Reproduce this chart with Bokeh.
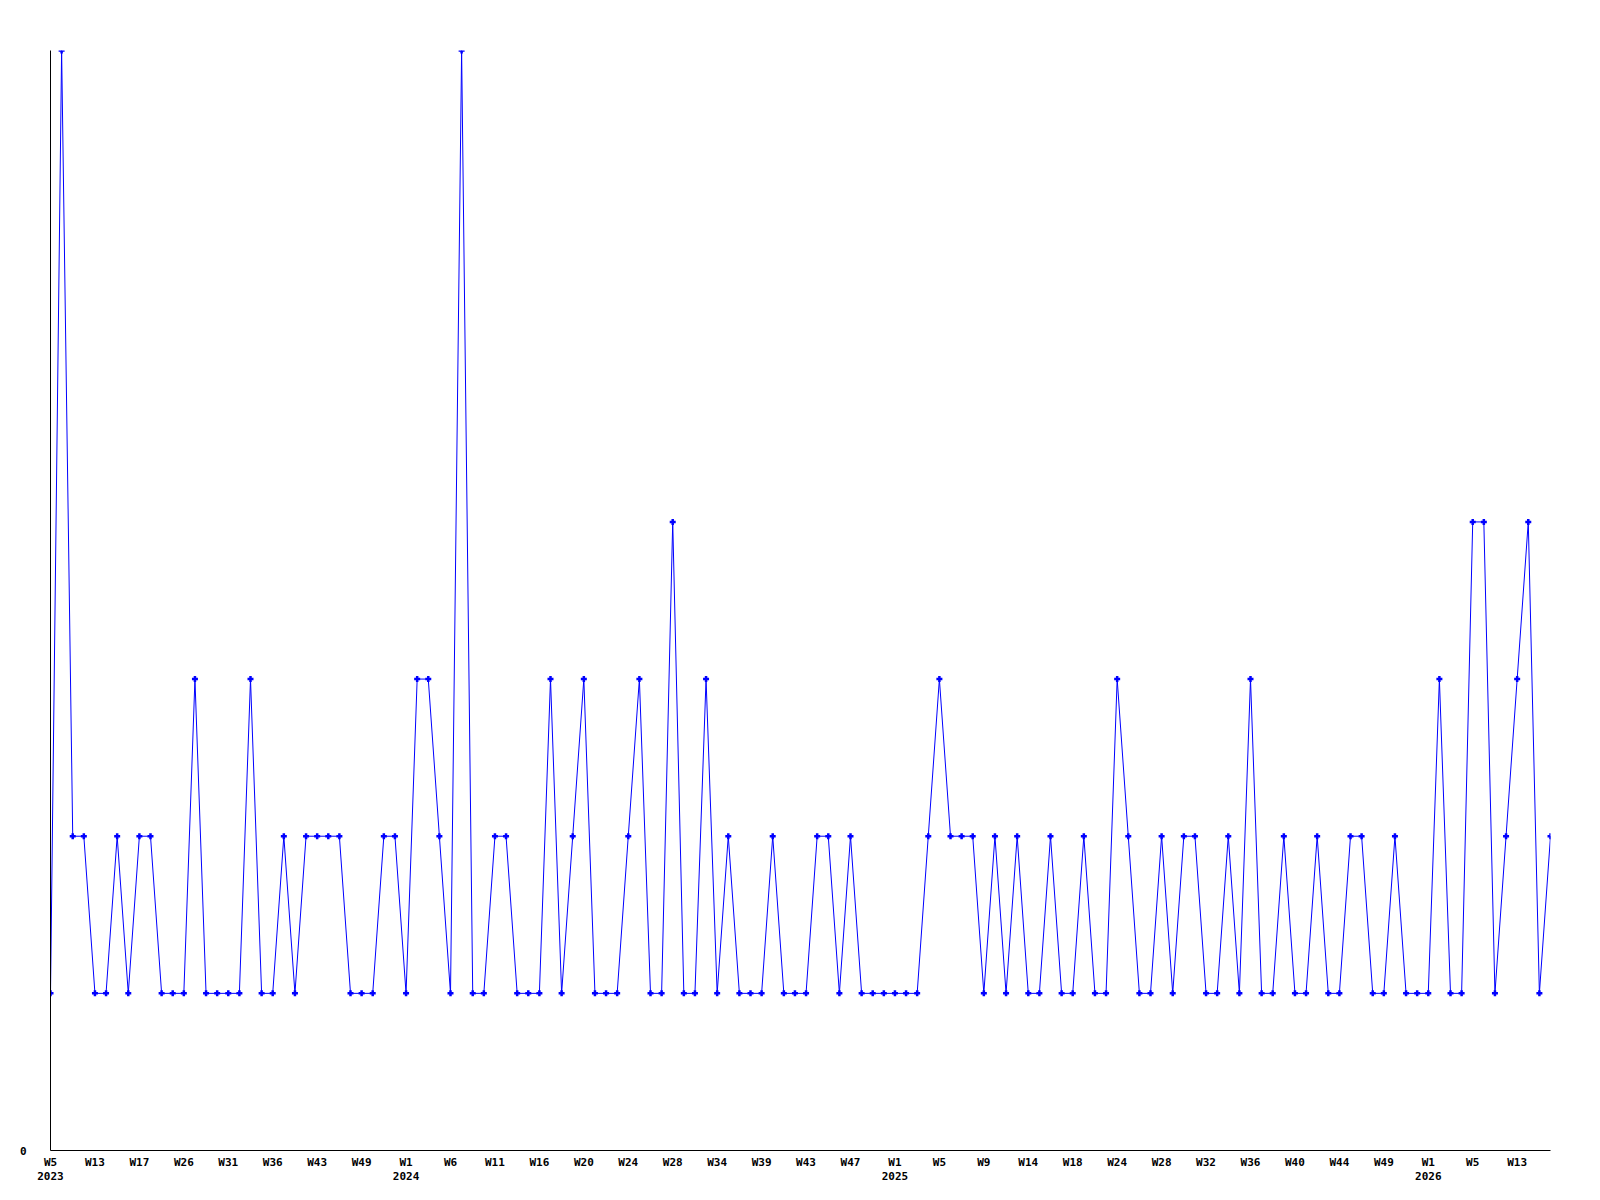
from bokeh.plotting import figure
from bokeh.models import Range1d, LinearAxis, FixedTicker, ColumnDataSource
from bokeh.embed import file_html
from bokeh.resources import INLINE

# Weekly counts (one value per plotted week)
counts = [
    1, 7, 2, 2, 1, 1, 2, 1, 2, 2, 1, 1, 1, 3, 1, 1, 1, 1, 3, 1,
    1, 2, 1, 2, 2, 2, 2, 1, 1, 1, 2, 2, 1, 3, 3, 2, 1, 7, 1, 1,
    2, 2, 1, 1, 1, 3, 1, 2, 3, 1, 1, 1, 2, 3, 1, 1, 4, 1, 1, 3,
    1, 2, 1, 1, 1, 2, 1, 1, 1, 2, 2, 1, 2, 1, 1, 1, 1, 1, 1, 2,
    3, 2, 2, 2, 1, 2, 1, 2, 1, 1, 2, 1, 1, 2, 1, 1, 3, 2, 1, 1,
    2, 1, 2, 2, 1, 1, 2, 1, 3, 1, 1, 2, 1, 1, 2, 1, 1, 2, 2, 1,
    1, 2, 1, 1, 1, 3, 1, 1, 4, 4, 1, 2, 3, 4, 1, 2,
]

# Tick labels, one every 4 points
tick_labels = [
    "W5", "W13", "W17", "W26", "W31", "W36", "W43", "W49",
    "W1", "W6", "W11", "W16", "W20", "W24", "W28", "W34", "W39", "W43", "W47",
    "W1", "W5", "W9", "W14", "W18", "W24", "W28", "W32", "W36", "W40", "W44", "W49",
    "W1", "W5", "W13",
]
tick_years = {0: "2023", 8: "2024", 19: "2025", 31: "2026"}
tick_step = 4

x = list(range(len(counts)))
src = ColumnDataSource(data=dict(x=x, y=counts))

FONT = "DejaVu Sans Mono"

p = figure(
    width=1592, height=1192,
    x_range=Range1d(0, len(counts) - 1), y_range=Range1d(0, 7),
    output_backend="svg", toolbar_location=None,
    x_axis_location=None, y_axis_location=None,
    min_border_left=50, min_border_right=42,
    min_border_top=50, min_border_bottom=42,
    background_fill_color="white", border_fill_color="white",
)
p.outline_line_color = None
p.xgrid.visible = False
p.ygrid.visible = False

yaxis = LinearAxis(
    ticker=FixedTicker(ticks=[0]),
    axis_line_color="black", axis_line_width=1,
    major_tick_line_color=None, minor_tick_line_color=None,
    major_tick_out=0, major_tick_in=0,
    major_label_standoff=24,
    major_label_text_font=FONT, major_label_text_font_size="11px",
    major_label_text_font_style="bold", major_label_text_color="black",
)
p.add_layout(yaxis, "left")

ticks = [k * tick_step for k in range(len(tick_labels))]
overrides = {}
for k, t in enumerate(ticks):
    lab = tick_labels[k]
    if k in tick_years:
        lab = lab + "\n" + tick_years[k]
    overrides[t] = lab

xaxis = LinearAxis(
    ticker=FixedTicker(ticks=ticks, minor_ticks=[]),
    axis_line_color="black", axis_line_width=1,
    major_tick_line_color=None, minor_tick_line_color=None,
    major_tick_out=0, major_tick_in=0,
    major_label_overrides=overrides,
    major_label_standoff=5,
    major_label_text_font=FONT, major_label_text_font_size="11px",
    major_label_text_font_style="bold", major_label_text_color="black",
    major_label_text_line_height=1.15,
)
p.add_layout(xaxis, "below")

p.line(x="x", y="y", source=src, line_color="#0000ff", line_width=1)
p.scatter(x="x", y="y", source=src, marker="cross", size=6, line_width=2.5,
          line_color="#0000ff")

open("out.html", "w").write(file_html(p, INLINE))
